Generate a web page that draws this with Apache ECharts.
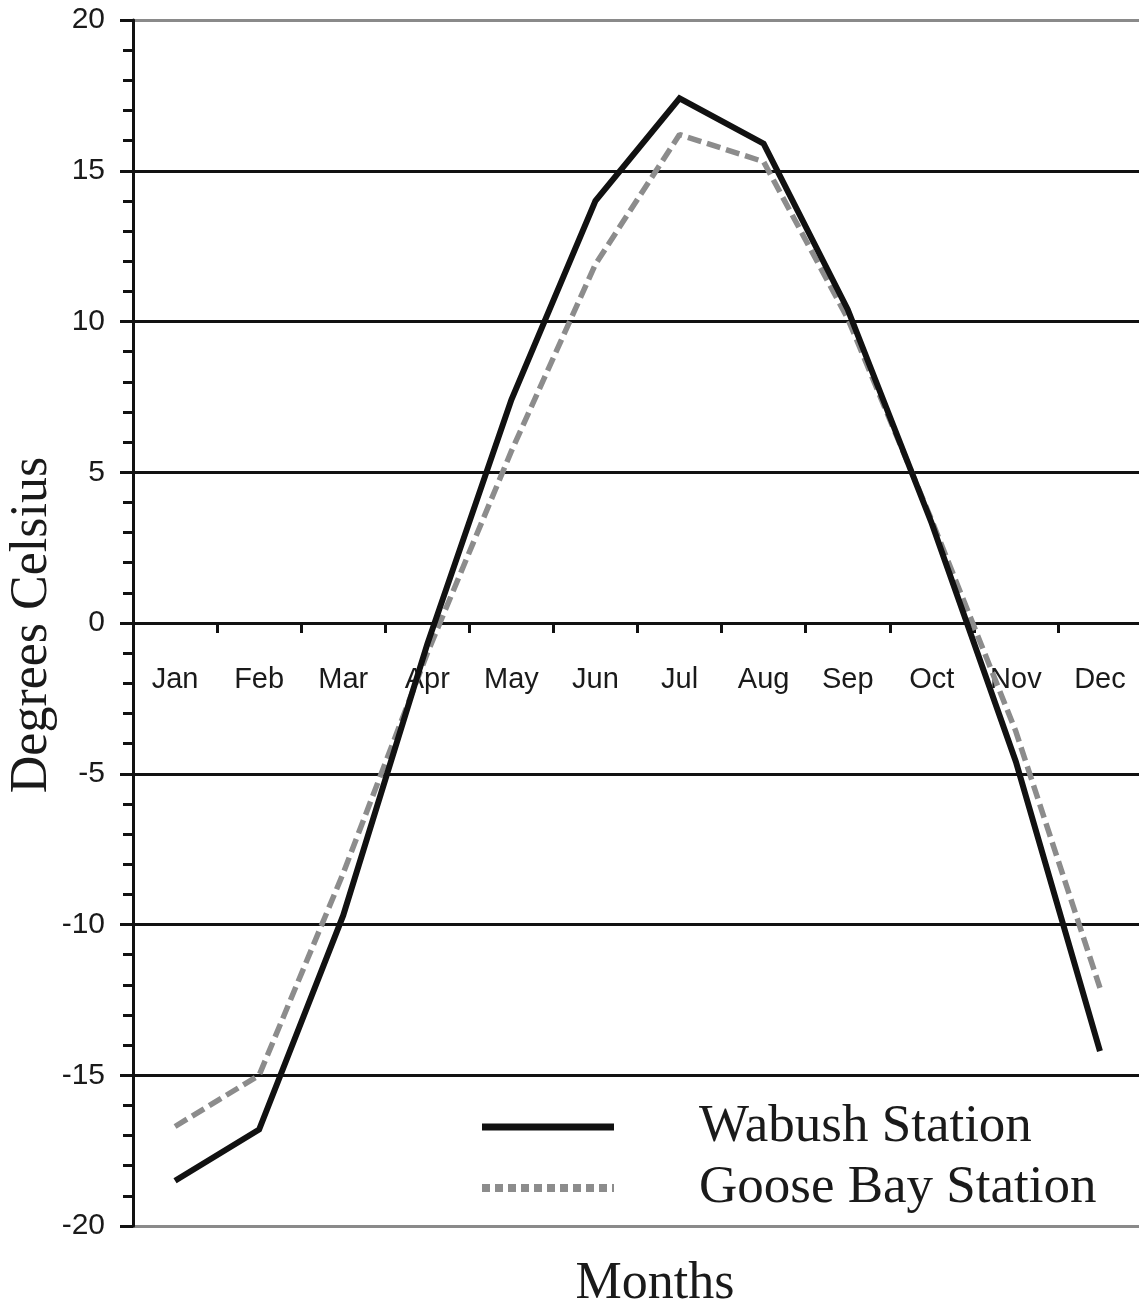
<!DOCTYPE html>
<html>
<head>
<meta charset="utf-8">
<title>Monthly mean temperature</title>
<script src="https://cdn.jsdelivr.net/npm/echarts@6/dist/echarts.min.js"></script>
<style>
  html, body { margin: 0; padding: 0; background: #fff; }
  #chart { width: 1139px; height: 1310px; }
</style>
</head>
<body>
<div id="chart"></div>
<script>
// Monthly mean air temperature (°C) at two Labrador stations
const months = ['Jan', 'Feb', 'Mar', 'Apr', 'May', 'Jun', 'Jul', 'Aug', 'Sep', 'Oct', 'Nov', 'Dec'];
const wabush = [-18.5, -16.8, -9.7, -0.7, 7.4, 14.0, 17.4, 15.9, 10.4, 3.3, -4.6, -14.2];
const gooseBay = [-16.7, -15.0, -8.3, -1.0, 5.7, 11.9, 16.2, 15.3, 10.1, 3.4, -3.6, -12.1];

const yMin = -20;
const yMax = 20;
const yStep = 5;

const chart = echarts.init(document.getElementById('chart'));

const gridTop = 20;
const gridBottom = 84;
const gridHeight = 1310 - gridTop - gridBottom;
// lift the category axis from the grid bottom up to the zero line
const zeroOffset = -gridHeight * (0 - yMin) / (yMax - yMin);

// grid lines: outer bounds in grey, interior ones in black
const splitColors = [];
for (let v = yMin; v <= yMax; v += yStep) {
  splitColors.push(v === yMin || v === yMax ? '#8a8a8a' : '#111');
}

const sans = '"Liberation Sans", Arial, sans-serif';
const serif = '"Liberation Serif", "Times New Roman", serif';

chart.setOption({
  backgroundColor: '#fff',
  animation: false,
  grid: { left: 133, right: -3, top: gridTop, bottom: gridBottom, containLabel: false, outerBoundsMode: 'none' },
  legend: {
    orient: 'vertical',
    left: 478,
    top: 1095,
    padding: 0,
    itemWidth: 132,
    itemHeight: 56,
    itemGap: -3,
    textStyle: {
      fontFamily: serif,
      fontSize: 53,
      lineHeight: 56,
      color: '#1a1a1a',
      padding: [8, 0, 0, 80]
    },
    data: [
      { name: 'Wabush Station', itemStyle: { opacity: 0 }, lineStyle: { width: 7, color: '#111', type: 'solid' } },
      { name: 'Goose Bay Station', itemStyle: { opacity: 0 }, lineStyle: { width: 8, color: '#8c8c8c', type: [8, 5] } }
    ]
  },
  xAxis: {
    type: 'category',
    data: months,
    boundaryGap: true,
    offset: zeroOffset,
    axisLine: { onZero: false, lineStyle: { color: '#111', width: 3 } },
    axisTick: { show: true, length: 10, lineStyle: { color: '#111', width: 3 } },
    axisLabel: { margin: 42, fontFamily: sans, fontSize: 29, color: '#1a1a1a' },
    splitLine: { show: false }
  },
  yAxis: {
    type: 'value',
    min: yMin,
    max: yMax,
    interval: yStep,
    axisLine: { show: true, lineStyle: { color: '#111', width: 3 } },
    axisTick: { show: true, length: 13, lineStyle: { color: '#111', width: 3 } },
    minorTick: { show: true, splitNumber: 5, length: 10, lineStyle: { color: '#111', width: 3 } },
    axisLabel: { margin: 28, fontFamily: sans, fontSize: 30, color: '#1a1a1a' },
    splitLine: { show: true, lineStyle: { color: splitColors, width: 3 } }
  },
  graphic: [
    {
      // vertical axis title
      type: 'text',
      x: 32,
      y: 625,
      rotation: Math.PI / 2,
      style: {
        text: 'Degrees Celsius',
        font: '52px ' + serif,
        fill: '#1a1a1a',
        textAlign: 'center',
        textVerticalAlign: 'middle'
      }
    },
    {
      // horizontal axis title
      type: 'text',
      x: 655,
      y: 1284,
      style: {
        text: 'Months',
        font: '52px ' + serif,
        fill: '#1a1a1a',
        textAlign: 'center',
        textVerticalAlign: 'middle'
      }
    }
  ],
  series: [
    {
      name: 'Wabush Station',
      type: 'line',
      data: wabush,
      symbol: 'none',
      z: 4,
      lineStyle: { color: '#111', width: 6, join: 'miter' },
      itemStyle: { color: '#111' }
    },
    {
      name: 'Goose Bay Station',
      type: 'line',
      data: gooseBay,
      symbol: 'none',
      z: 3,
      lineStyle: { color: '#8c8c8c', width: 5.5, type: [14, 6] },
      itemStyle: { color: '#8c8c8c' }
    }
  ]
});
</script>
</body>
</html>
